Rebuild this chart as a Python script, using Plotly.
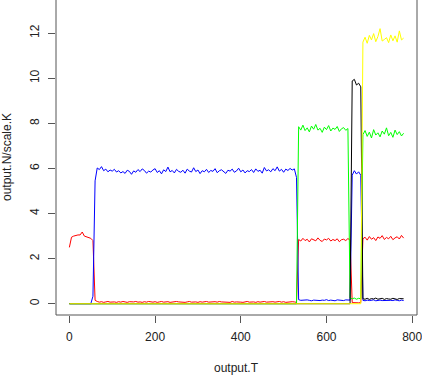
import plotly.graph_objects as go

# time grid of the simulation output (step 5)
output_T = list(range(0, 785, 5))

red = [2.5, 2.95, 3.0, 3.03, 3.05, 3.05, 3.18, 3.0, 2.96, 2.93, 2.9, 2.8,
       0.15,
       0.1, 0.07, 0.09, 0.06, 0.08, 0.1, 0.07, 0.09, 0.08, 0.06,
       0.09, 0.07, 0.1, 0.08, 0.06, 0.09, 0.07, 0.08, 0.1, 0.07,
       0.08, 0.06, 0.09, 0.07, 0.1, 0.08, 0.07, 0.09, 0.06, 0.08,
       0.1, 0.07, 0.08, 0.09, 0.06, 0.08, 0.07, 0.1, 0.08, 0.07,
       0.09, 0.06, 0.08, 0.1, 0.07, 0.09, 0.08, 0.06, 0.09, 0.07,
       0.08, 0.1, 0.07, 0.08, 0.06, 0.09, 0.07, 0.1, 0.08, 0.07,
       0.09, 0.08, 0.06, 0.1, 0.07, 0.08, 0.09, 0.07, 0.06, 0.08,
       0.1, 0.07, 0.09, 0.08, 0.06, 0.09, 0.07, 0.08, 0.1, 0.07,
       0.08, 0.06, 0.09, 0.07, 0.08, 0.1, 0.07, 0.09, 0.06, 0.08,
       0.07, 0.09, 0.08,
       0.06,
       2.85, 2.78, 2.9, 2.8, 2.86, 2.74, 2.88, 2.82, 2.79, 2.92, 2.81, 2.76,
       2.87, 2.83, 2.9, 2.78, 2.85, 2.8, 2.88, 2.75, 2.84, 2.86, 2.8, 2.89,
       2.82,
       0.05, 0.04, 0.05, 0.04, 0.05,
       2.88, 2.95, 2.82, 2.98, 2.86, 2.93, 2.8, 2.96, 2.9, 3.02,
       2.85, 2.94, 2.88, 2.99, 2.84, 2.92, 2.97, 2.87, 3.03, 2.91]

blue = [0.0] * 11 + [
    0.33, 5.45,
    6.02, 5.95, 6.08, 5.9, 5.97, 5.85, 5.93, 5.88, 5.96, 5.84,
    5.9, 5.8, 5.86, 5.78, 5.92, 5.87, 5.74, 5.89, 5.83, 5.95,
    5.86, 5.98, 5.91, 5.79, 5.88, 5.84, 5.93, 5.99, 5.82, 5.9,
    5.76, 5.94, 5.86, 6.06, 5.85, 5.91, 5.8, 5.96, 5.87, 5.83,
    5.92, 5.79, 5.97, 5.88, 5.84, 6.03, 5.86, 5.93, 5.77, 5.9,
    5.85, 5.96, 5.82, 5.91, 5.87, 5.99, 5.81, 5.9, 5.94, 5.86,
    5.78, 5.92, 5.88, 5.97, 5.83, 5.89, 6.01, 5.85, 5.93, 5.8,
    5.9, 5.86, 5.95, 5.82, 5.98, 5.87, 5.92, 5.79, 6.04, 5.89,
    5.94, 5.85, 5.99, 5.9, 6.07, 5.88, 5.96, 5.83, 5.97, 5.91,
    6.0, 5.93, 5.98,
    5.6,
    0.18, 0.15, 0.16, 0.14, 0.17, 0.15, 0.13, 0.16, 0.15, 0.17,
    0.14, 0.16, 0.15, 0.18, 0.14, 0.16, 0.15, 0.13, 0.17, 0.15,
    0.16, 0.14, 0.17, 0.15, 0.16,
    5.7, 5.9, 5.75, 5.85, 5.7,
    0.15, 0.13, 0.16, 0.14, 0.15, 0.17, 0.13, 0.15, 0.16, 0.14,
    0.15, 0.13, 0.16, 0.15, 0.14, 0.17, 0.15, 0.13, 0.16, 0.14]

green = [0.0] * 107 + [
    7.85, 7.7, 7.92, 7.68, 7.8, 7.62, 7.88, 7.74, 7.95, 7.7, 7.78, 7.6,
    7.83, 7.72, 7.9, 7.66, 7.79, 7.73, 7.86, 7.64, 7.76, 7.81, 7.69, 7.77,
    0.25, 0.22, 0.25, 0.2, 0.24, 0.22,
    7.5, 7.68, 7.42, 7.61, 7.35, 7.72, 7.48, 7.58, 7.4, 7.66,
    7.52, 7.8, 7.45, 7.6, 7.38, 7.7, 7.5, 7.63, 7.44, 7.56]

black = [0.0] * 132 + [
    9.88, 9.95, 9.7, 9.78, 9.62,
    0.22, 0.2, 0.24, 0.19, 0.23, 0.21, 0.25, 0.2, 0.22, 0.24,
    0.19, 0.23, 0.21, 0.2, 0.24, 0.22, 0.19, 0.23, 0.21, 0.22]

yellow = [0.0] * 137 + [
    11.6, 11.82, 11.55, 11.9, 11.7, 11.98, 11.62, 11.85, 12.2, 11.65,
    11.72, 11.8, 11.58, 11.92, 11.66, 11.88, 11.6, 12.1, 11.7, 11.78]

series = [(red, "#FF0000"), (blue, "#0000FF"), (green, "#00FF00"),
          (black, "#000000"), (yellow, "#FFFF00")]

fig = go.Figure()
for vals, col in series:
    fig.add_trace(go.Scatter(x=output_T, y=vals, mode="lines",
                             line=dict(color=col, width=1),
                             showlegend=False, hoverinfo="skip"))

font = dict(family="Liberation Sans, Arial, sans-serif", size=12, color="#222")
axcol = "#555"

fig.update_layout(
    width=422, height=375,
    margin=dict(l=56, r=5, t=0, b=60, autoexpand=False),
    plot_bgcolor="white", paper_bgcolor="white",
    font=font,
    xaxis=dict(range=[-31.2, 811.2], tickvals=[0, 200, 400, 600, 800],
               ticks="outside", ticklen=7, tickwidth=1, tickcolor=axcol,
               showgrid=False, zeroline=False, showline=False, tickfont=font,
               automargin=False, ticklabelstandoff=4,
               ticklabeloverflow="allow"),
    yaxis=dict(range=[-0.5, 13.47], tickvals=[0, 2, 4, 6, 8, 10, 12],
               tickangle=-90, ticks="outside", ticklen=7, tickwidth=1,
               tickcolor=axcol, showgrid=False, zeroline=False,
               showline=False, tickfont=font, automargin=False,
               ticklabelstandoff=4, ticklabeloverflow="allow"),
    shapes=[
        dict(type="line", xref="paper", yref="paper", x0=0, x1=0, y0=0, y1=1,
             line=dict(color=axcol, width=1)),
        dict(type="line", xref="paper", yref="paper", x0=0, x1=1, y0=0, y1=0,
             line=dict(color=axcol, width=1)),
        dict(type="line", xref="paper", yref="paper", x0=1, x1=1, y0=0, y1=1,
             line=dict(color=axcol, width=1)),
    ],
    annotations=[
        dict(text="output.T", xref="paper", yref="paper", x=0.5, y=-0.168,
             xanchor="center", yanchor="middle", showarrow=False, font=font),
        dict(text="output.N/scale.K", xref="paper", yref="paper", x=-0.137,
             y=0.5, xanchor="center", yanchor="middle", textangle=-90,
             showarrow=False, font=font),
    ],
)

# page body has a default 8px margin; drop it so the figure sits at 0,0
fig.write_html("out.html", config={"displayModeBar": False},
               post_script="document.body.style.margin='0';")
